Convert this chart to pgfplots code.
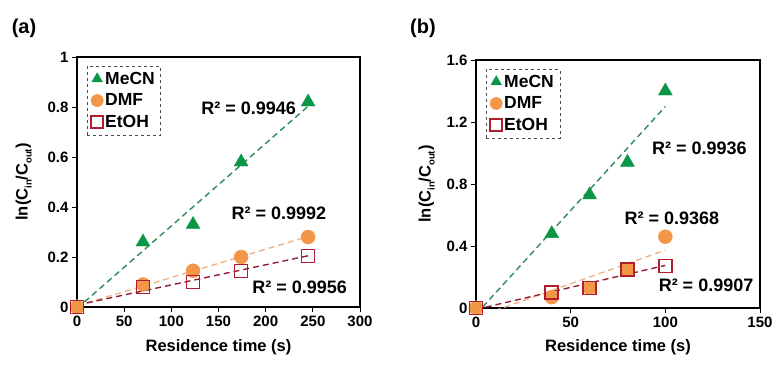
\documentclass[border=0pt]{standalone}
\usepackage{pgfplots}
\pgfplotsset{compat=1.18}
\usepackage{fontspec}
\setmainfont{Liberation Sans}
\definecolor{mgreen}{RGB}{10,150,70}
\definecolor{mgreenl}{RGB}{45,140,90}
\definecolor{morange}{RGB}{242,150,72}
\definecolor{morangel}{RGB}{238,180,135}
\definecolor{mred}{RGB}{175,30,45}
\definecolor{mredl}{RGB}{145,30,55}
\newcommand{\sub}[1]{\raisebox{-0.25em}{\fontsize{9.5}{10}\selectfont #1}}
\tikzset{rlab/.style={font=\bfseries\fontsize{18}{20}\selectfont}}
\pgfplotsset{
  myax/.style={
    scale only axis,
    axis line style={line width=1.3pt},
    tick style={black, line width=1pt},
    tick align=outside, major tick length=5pt,
    xtick pos=left, ytick pos=left,
    /pgf/number format/assume math mode=true,
    tick label style={font=\bfseries\fontsize{15}{18}\selectfont},
    label style={font=\bfseries\fontsize{16.5}{19}\selectfont},
    xlabel style={yshift=-6pt},
    legend style={at={(0.035,0.965)}, anchor=north west, draw=black!70, dashed, line width=0.6pt,
      font=\bfseries\fontsize{17.5}{20}\selectfont, inner xsep=4pt, inner ysep=4pt, row sep=4pt, cells={anchor=west}},
    legend cell align=left,
    legend image post style={mark size=6pt},
    xlabel={Residence time (s)},
    ylabel={ln(C\sub{in}/C\sub{out})},
    clip=true,
  },
  mecn/.style={only marks, mark=triangle*, mark size=8pt, color=mgreen, mark options={solid, fill=mgreen, draw=mgreen}},
  dmf/.style={only marks, mark=*, mark size=7pt, color=morange, mark options={solid, fill=morange, draw=morange}},
  etoh/.style={only marks, mark=square, mark size=6.5pt, color=mred, mark options={solid, draw=mred, line width=1.5pt}},
  trend/.style={dash pattern=on 6pt off 4pt, line width=1.4pt, forget plot},
}
\begin{document}
\begin{tikzpicture}
\path[use as bounding box] (0pt,0pt) rectangle (777pt,-365pt);
\node[font=\bfseries\fontsize{20}{24}\selectfont] at (24pt,-28pt) {(a)};
\node[font=\bfseries\fontsize{20}{24}\selectfont] at (423pt,-28pt) {(b)};
\begin{axis}[myax, at={(77pt,-307pt)}, anchor=south west, width=283pt, height=250pt,
  xmin=0, xmax=300, ymin=0, ymax=1, xtick={0,50,...,300}, ytick={0,0.2,0.4,0.6,0.8,1},
  ylabel shift=9pt]
\addplot[mecn] coordinates {(0,0) (70,0.26) (123,0.33) (174,0.58) (245,0.82)};
\addlegendentry{MeCN}
\addplot[dmf] coordinates {(0,0) (70,0.09) (123,0.145) (174,0.2) (245,0.28)};
\addlegendentry{DMF}
\addplot[etoh] coordinates {(0,0) (70,0.08) (123,0.1) (174,0.145) (245,0.205)};
\addlegendentry{EtOH}
\addplot[trend, mgreenl] coordinates {(0,-0.006) (245,0.803)};
\addplot[trend, morangel] coordinates {(0,0.005) (245,0.282)};
\addplot[trend, mredl] coordinates {(0,0.008) (245,0.205)};
\node[rlab] at (axis cs:182,0.796) {R² = 0.9946};
\node[rlab] at (axis cs:214,0.376) {R² = 0.9992};
\node[rlab] at (axis cs:236,0.08) {R² = 0.9956};
\end{axis}
\begin{axis}[myax, at={(476pt,-308pt)}, anchor=south west, width=284pt, height=248pt,
  xmin=0, xmax=150, ymin=0, ymax=1.6, xtick={0,50,100,150}, ytick={0,0.4,0.8,1.2,1.6},
  ylabel shift=5pt]
\addplot[mecn] coordinates {(0,0) (40,0.48) (60,0.73) (80,0.94) (100,1.40)};
\addlegendentry{MeCN}
\addplot[dmf] coordinates {(0,0) (40,0.07) (60,0.13) (80,0.25) (100,0.46)};
\addlegendentry{DMF}
\addplot[etoh] coordinates {(0,0) (40,0.10) (60,0.13) (80,0.25) (100,0.27)};
\addlegendentry{EtOH}
\addplot[trend, mgreenl] coordinates {(0,-0.041) (100,1.30)};
\addplot[trend, morangel] coordinates {(0,-0.06) (100,0.373)};
\addplot[trend, mredl] coordinates {(0,-0.009) (100,0.275)};
\node[rlab] at (axis cs:118,1.03) {R² = 0.9936};
\node[rlab] at (axis cs:103.5,0.58) {R² = 0.9368};
\node[rlab] at (axis cs:121.5,0.148) {R² = 0.9907};
\end{axis}
\end{tikzpicture}
\end{document}
